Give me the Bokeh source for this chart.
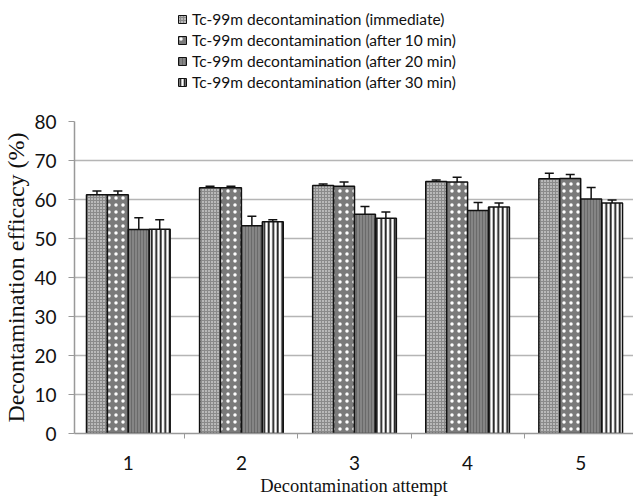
from bokeh.plotting import figure
from bokeh.models import (ColumnDataSource, Whisker, Legend, LegendItem, FixedTicker,
                          Range1d, TeeHead)
from bokeh.layouts import column
from bokeh.transform import dodge
from bokeh.embed import file_html
from bokeh.resources import INLINE

attempts = [1, 2, 3, 4, 5]
tick_labels = ["1", "2", "3", "4", "5"]
series_names = [
    "Tc-99m decontamination (immediate)",
    "Tc-99m decontamination (after 10 min)",
    "Tc-99m decontamination (after 20 min)",
    "Tc-99m decontamination (after 30 min)",
]
immediate = [61.2, 63.0, 63.6, 64.6, 65.3]
immediate_err = [1.0, 0.4, 0.4, 0.4, 1.4]
after10 = [61.2, 63.0, 63.4, 64.5, 65.4]
after10_err = [1.0, 0.4, 1.1, 1.2, 1.0]
after20 = [52.3, 53.3, 56.2, 57.2, 60.1]
after20_err = [3.0, 2.4, 2.0, 2.0, 3.0]
after30 = [52.4, 54.3, 55.2, 58.1, 59.1]
after30_err = [2.4, 0.5, 1.6, 1.0, 0.8]

values = [immediate, after10, after20, after30]
errors = [immediate_err, after10_err, after20_err, after30_err]

bar_w = 0.185
offsets = [-1.5 * bar_w, -0.5 * bar_w, 0.5 * bar_w, 1.5 * bar_w]
styles = [
    dict(fill_color="#8a8a8a", hatch_pattern="dot", hatch_color="#ffffff", hatch_scale=3, hatch_weight=1),
    dict(fill_color="#7a7a7a", hatch_pattern="dot", hatch_color="#ffffff", hatch_scale=7, hatch_weight=1),
    dict(fill_color="#858585", hatch_pattern="vertical_line", hatch_color="#6a6a6a", hatch_scale=3, hatch_weight=1),
    dict(fill_color="#ffffff", hatch_pattern="vertical_line", hatch_color="#111111", hatch_scale=4.5, hatch_weight=1.8),
]

# ---- legend strip (top) ----
leg_fig = figure(width=633, height=110, output_backend="svg", toolbar_location=None,
                 x_range=Range1d(0, 1), y_range=Range1d(0, 1),
                 x_axis_location=None, y_axis_location=None,
                 min_border_left=72, min_border_right=0,
                 min_border_top=0, min_border_bottom=0)
leg_fig.outline_line_color = None
leg_fig.xgrid.visible = False
leg_fig.ygrid.visible = False
leg_items = []
for i in range(4):
    # a single off-range bar per series: only its legend swatch is seen
    r = leg_fig.vbar(x=[10], top=[1], width=0.1, line_color="#111111", line_width=1, **styles[i])
    leg_items.append(LegendItem(label=series_names[i], renderers=[r]))
legend = Legend(items=leg_items, orientation="vertical", location=(103, 18),
                label_text_font="Lato", label_text_font_size="15.5px", label_text_color="#111111",
                glyph_width=10, glyph_height=10, label_height=21, spacing=0, padding=0,
                label_standoff=5, border_line_color=None, background_fill_alpha=0,
                margin=0)
leg_fig.add_layout(legend, "center")

# ---- main chart ----
p = figure(width=633, height=389, output_backend="svg", toolbar_location=None,
           x_range=Range1d(0.524, 5.467), y_range=Range1d(0, 80),
           min_border_left=72, min_border_right=0, min_border_top=11, min_border_bottom=66)
p.outline_line_color = None

for i in range(4):
    src = ColumnDataSource(dict(x=attempts, top=values[i],
                                upper=[v + e for v, e in zip(values[i], errors[i])],
                                lower=[v - e for v, e in zip(values[i], errors[i])]))
    p.vbar(x=dodge("x", offsets[i], range=p.x_range), top="top", bottom=0, width=bar_w,
           source=src, line_color="#111111", line_width=1.5, **styles[i])
    w = Whisker(base=dodge("x", offsets[i], range=p.x_range), upper="upper", lower="lower",
                source=src, line_color="#111111", line_width=1.5,
                upper_head=TeeHead(size=9, line_color="#111111", line_width=1.5),
                lower_head=TeeHead(size=9, line_color="#111111", line_width=1.5))
    p.add_layout(w)

p.xaxis.ticker = FixedTicker(ticks=attempts, minor_ticks=[0.5, 1.5, 2.5, 3.5, 4.5, 5.5])
p.xaxis.major_label_overrides = {a: t for a, t in zip(attempts, tick_labels)}
p.xaxis.major_tick_line_color = None
p.xaxis.major_tick_out = 0
p.xaxis.minor_tick_out = 5
p.xaxis.minor_tick_in = 0
p.xaxis.minor_tick_line_color = "#999999"
p.xaxis.axis_line_color = "#999999"
p.xaxis.axis_line_width = 1.5
p.xaxis.major_label_text_font = "Lato"
p.xaxis.major_label_text_font_size = "19px"
p.xaxis.major_label_text_color = "#111111"
p.xaxis.major_label_standoff = 17
p.xaxis.axis_label = "Decontamination attempt"
p.xaxis.axis_label_text_font = "Liberation Serif"
p.xaxis.axis_label_text_font_style = "normal"
p.xaxis.axis_label_text_font_size = "18.5px"
p.xaxis.axis_label_text_color = "#111111"
p.xaxis.axis_label_standoff = 3

p.yaxis.ticker = FixedTicker(ticks=[0, 10, 20, 30, 40, 50, 60, 70, 80])
p.yaxis.axis_line_color = "#999999"
p.yaxis.axis_line_width = 1.5
p.yaxis.major_tick_out = 6
p.yaxis.major_tick_in = 0
p.yaxis.major_tick_line_color = "#999999"
p.yaxis.minor_tick_line_color = None
p.yaxis.major_label_text_font = "Lato"
p.yaxis.major_label_text_font_size = "19px"
p.yaxis.major_label_text_color = "#111111"
p.yaxis.major_label_standoff = 12
p.yaxis.axis_label = "Decontamination efficacy (%)"
p.yaxis.axis_label_text_font = "Liberation Serif"
p.yaxis.axis_label_text_font_style = "normal"
p.yaxis.axis_label_text_font_size = "24px"
p.yaxis.axis_label_text_color = "#111111"
p.yaxis.axis_label_standoff = 2

p.xgrid.grid_line_color = None
p.ygrid.grid_line_color = "#b5b5b5"
p.ygrid.grid_line_width = 1.5

layout = column(leg_fig, p, spacing=0)
open("out.html", "w").write(file_html(layout, INLINE))
